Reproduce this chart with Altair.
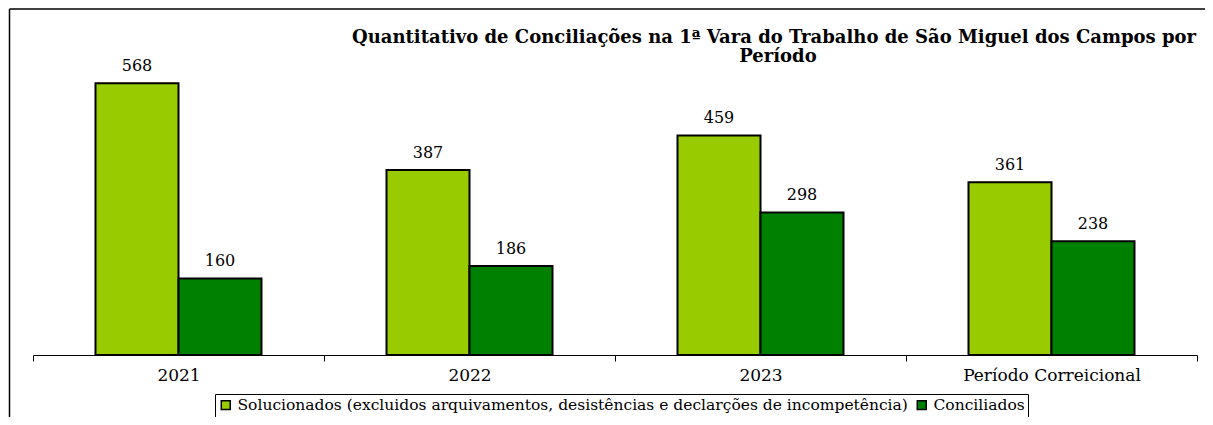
import altair as alt
import pandas as pd

categories = ["2021", "2022", "2023", "Período Correicional"]
solucionados = [568, 387, 459, 361]
conciliados = [160, 186, 298, 238]
series_names = [
    "Solucionados (excluidos arquivamentos, desistências e declarções de incompetência)",
    "Conciliados",
]
series_colors = ["#99CC00", "#008000"]
title_lines = [
    "Quantitativo de Conciliações na 1ª Vara do Trabalho de São Miguel dos Campos por",
    "Período",
]

rows = []
for i, c in enumerate(categories):
    rows.append({"cat": c, "serie": series_names[0], "ord": 0, "valor": solucionados[i]})
    rows.append({"cat": c, "serie": series_names[1], "ord": 1, "valor": conciliados[i]})
df = pd.DataFrame(rows)

FONT = "DejaVu Serif"
W, H = 1164, 287

x_enc = alt.X("cat:N", sort=categories, title=None,
              scale=alt.Scale(paddingInner=0, paddingOuter=0),
              axis=alt.Axis(labelAngle=0, tickBand="extent", tickSize=6, tickColor="black",
                            domainColor="black", labelColor="black", labelFont=FONT,
                            labelFontSize=17, labelPadding=6, grid=False))
xo_enc = alt.XOffset("serie:N", sort=series_names,
                     scale=alt.Scale(paddingInner=0, paddingOuter=0.753))
y_enc = alt.Y("valor:Q", scale=alt.Scale(domain=[0, 600]), axis=None)

base = alt.Chart(df)

bars = base.mark_bar(stroke="black", strokeWidth=2).encode(
    x=x_enc, xOffset=xo_enc, y=y_enc,
    color=alt.Color("serie:N", sort=series_names,
                    scale=alt.Scale(domain=series_names, range=series_colors),
                    legend=alt.Legend(title=None, orient="none", direction="horizontal",
                                      legendX=182, legendY=326, strokeColor="black",
                                      padding=3, symbolType="square", symbolSize=80,
                                      symbolStrokeColor="black", symbolStrokeWidth=1.5,
                                      labelFont=FONT, labelFontSize=15.5, labelColor="black",
                                      columnPadding=6, symbolOffset=0, labelLimit=1000)),
)

labels = base.mark_text(baseline="bottom", dy=-9, font=FONT, fontSize=16, color="black").encode(
    x=x_enc, xOffset=xo_enc, y=y_enc, text=alt.Text("valor:Q"),
)

one = alt.Chart(pd.DataFrame({"a": [0]}))
left_rule = one.mark_rule(color="black", strokeWidth=1.5).encode(
    x=alt.value(-23.5), y=alt.value(-59), y2=alt.value(349))
top_rule = one.mark_rule(color="black", strokeWidth=1.5).encode(
    x=alt.value(-23.5), x2=alt.value(1172), y=alt.value(-59))

title1 = one.mark_text(font=FONT, fontSize=18, fontWeight="bold", color="black",
                       align="center", baseline="middle").encode(
    x=alt.value(741), y=alt.value(-30), text=alt.value(title_lines[0]))
title2 = one.mark_text(font=FONT, fontSize=18, fontWeight="bold", color="black",
                       align="center", baseline="middle").encode(
    x=alt.value(745), y=alt.value(-11), text=alt.value(title_lines[1]))

chart = alt.layer(bars, labels, left_rule, top_rule, title1, title2).properties(
    width=W, height=H,
    background="white",
    autosize=alt.AutoSizeParams(type="none"),
    padding={"left": 25, "top": 60, "right": 8, "bottom": 62},
).configure_view(strokeWidth=0, stroke="transparent")

chart.save("out.html", embed_options={"renderer": "svg", "actions": False})
